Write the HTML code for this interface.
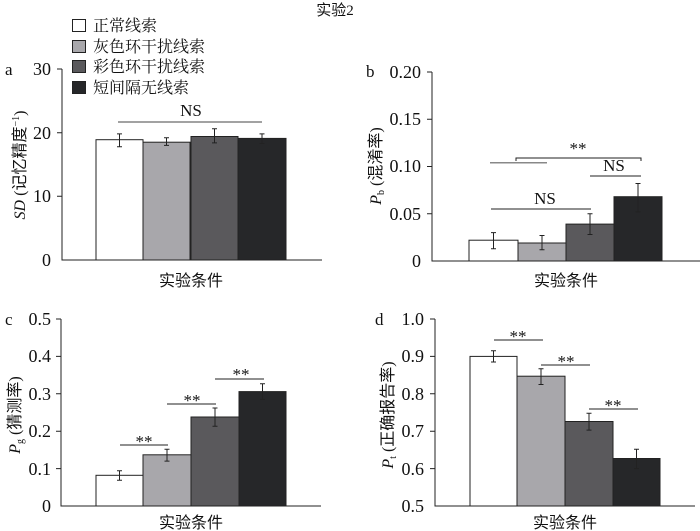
<!DOCTYPE html>
<html><head><meta charset="utf-8"><style>
html,body{margin:0;padding:0;background:#fff}
svg{display:block}
text{font-family:"Liberation Serif","Noto Serif CJK SC",serif;fill:#111}
.t{font-size:18px;text-anchor:end}
.c{font-family:"Liberation Serif","Noto Sans CJK SC",sans-serif}
</style></head><body>
<svg width="700" height="531" viewBox="0 0 700 531" xmlns="http://www.w3.org/2000/svg">
<text x="335" y="15" font-size="15" text-anchor="middle" class="c">实验2</text>
<!-- legend -->
<g stroke="#222" stroke-width="1">
<rect x="72.5" y="19.5" width="13" height="12" fill="#fff"/>
<rect x="72.5" y="40.5" width="13" height="12" fill="#a8a7ab"/>
<rect x="72.5" y="60.5" width="13" height="12" fill="#5a595c"/>
<rect x="72.5" y="81.5" width="13" height="12" fill="#262729"/>
</g>
<g font-size="16" class="c">
<text x="93" y="31">正常线索</text>
<text x="93" y="52">灰色环干扰线索</text>
<text x="93" y="72">彩色环干扰线索</text>
<text x="93" y="93">短间隔无线索</text>
</g>

<!-- Panel a -->
<text x="5" y="75" font-size="17">a</text>
<g stroke="#222" fill="none">
<path d="M62 69V260H322"/>
<path d="M57 69H62M57 132.7H62M57 196.3H62"/>
</g>
<text class="t" x="51" y="75">30</text>
<text class="t" x="51" y="139">20</text>
<text class="t" x="51" y="202">10</text>
<text class="t" x="51" y="266">0</text>
<g stroke="#222">
<rect x="96" y="139.7" width="47" height="120.3" fill="#fff"/>
<rect x="143" y="142.2" width="47" height="117.8" fill="#a8a7ab"/>
<rect x="191" y="136.5" width="47" height="123.5" fill="#5a595c"/>
<rect x="238" y="138.4" width="48" height="121.6" fill="#262729"/>
<path d="M119.5 133.9V146.7M117 133.9H122M117 146.7H122M166.5 137.8V145.4M164 137.8H169M164 145.4H169M214.5 128.8V142.9M212 128.8H217M212 142.9H217M262 133.9V143.5M259.5 133.9H264.5M259.5 143.5H264.5"/>
<path d="M118 122H262" stroke="#444"/>
</g>
<text x="191" y="116" font-size="17" text-anchor="middle">NS</text>
<text transform="translate(25,165) rotate(-90)" font-size="16" text-anchor="middle" class="c"><tspan font-style="italic">SD</tspan> (记忆精度<tspan font-size="10" dy="-6">−1</tspan><tspan dy="6">)</tspan></text>
<text x="191" y="286" font-size="16" text-anchor="middle" class="c">实验条件</text>

<!-- Panel b -->
<text x="366" y="77" font-size="17">b</text>
<g stroke="#222" fill="none">
<path d="M432 72V261H700"/>
<path d="M427 72H432M427 119.25H432M427 166.5H432M427 213.75H432"/>
</g>
<text class="t" x="421" y="78">0.20</text>
<text class="t" x="421" y="125">0.15</text>
<text class="t" x="421" y="172">0.10</text>
<text class="t" x="421" y="220">0.05</text>
<text class="t" x="421" y="267">0</text>
<g stroke="#222">
<rect x="469" y="240.2" width="49" height="20.8" fill="#fff"/>
<rect x="518" y="243" width="48" height="18" fill="#a8a7ab"/>
<rect x="566" y="224.1" width="48" height="36.9" fill="#5a595c"/>
<rect x="614" y="196.7" width="48" height="64.3" fill="#262729"/>
<path d="M493.5 232.6V248.7M491 232.6H496M491 248.7H496M542 235.5V249.7M539.5 235.5H544.5M539.5 249.7H544.5M590 213.8V234.5M587.5 213.8H592.5M587.5 234.5H592.5M638 183.5V211.9M635.5 183.5H640.5M635.5 211.9H640.5"/>
<path d="M490 162.7H547" stroke="#888" stroke-width="1.5"/>
<path d="M516 161V158H641V161" fill="none"/>
<path d="M590 176H641"/>
<path d="M491 209H591"/>
</g>
<text x="578" y="154" font-size="17" text-anchor="middle">**</text>
<text x="614" y="171" font-size="17" text-anchor="middle">NS</text>
<text x="545" y="204" font-size="17" text-anchor="middle">NS</text>
<text transform="translate(381,166) rotate(-90)" font-size="16" text-anchor="middle" class="c"><tspan font-style="italic">P</tspan><tspan font-size="10" dy="3">b</tspan><tspan dy="-3"> (混淆率)</tspan></text>
<text x="566" y="286" font-size="16" text-anchor="middle" class="c">实验条件</text>

<!-- Panel c -->
<text x="5" y="325" font-size="17">c</text>
<g stroke="#222" fill="none">
<path d="M61 319V506H321"/>
<path d="M56 319H61M56 356.4H61M56 393.8H61M56 431.2H61M56 468.6H61"/>
</g>
<text class="t" x="51" y="325">0.5</text>
<text class="t" x="51" y="362">0.4</text>
<text class="t" x="51" y="400">0.3</text>
<text class="t" x="51" y="437">0.2</text>
<text class="t" x="51" y="475">0.1</text>
<text class="t" x="51" y="512">0</text>
<g stroke="#222">
<rect x="96" y="475.3" width="47" height="30.7" fill="#fff"/>
<rect x="143" y="454.8" width="48" height="51.2" fill="#a8a7ab"/>
<rect x="191" y="417" width="48" height="89" fill="#5a595c"/>
<rect x="239" y="391.6" width="47" height="114.4" fill="#262729"/>
<path d="M119.5 470.8V480.2M117 470.8H122M117 480.2H122M167 449.2V461.1M164.5 449.2H169.5M164.5 461.1H169.5M215 408V426.3M212.5 408H217.5M212.5 426.3H217.5M262.5 383.7V399.4M260 383.7H265M260 399.4H265"/>
<path d="M120 445H168M167 404H216M215 379H264"/>
</g>
<g font-size="17" text-anchor="middle"><text x="144" y="447">**</text><text x="192" y="406">**</text><text x="241" y="380">**</text></g>
<text transform="translate(20,415) rotate(-90)" font-size="16" text-anchor="middle" class="c"><tspan font-style="italic">P</tspan><tspan font-size="10" dy="3">g</tspan><tspan dy="-3"> (猜测率)</tspan></text>
<text x="191" y="528" font-size="16" text-anchor="middle" class="c">实验条件</text>

<!-- Panel d -->
<text x="375" y="325" font-size="17">d</text>
<g stroke="#222" fill="none">
<path d="M435 319V506H695"/>
<path d="M430 319H435M430 356.4H435M430 393.8H435M430 431.2H435M430 468.6H435"/>
</g>
<text class="t" x="424" y="325">1.0</text>
<text class="t" x="424" y="362">0.9</text>
<text class="t" x="424" y="400">0.8</text>
<text class="t" x="424" y="437">0.7</text>
<text class="t" x="424" y="475">0.6</text>
<text class="t" x="424" y="512">0.5</text>
<g stroke="#222">
<rect x="470" y="356.4" width="47" height="149.6" fill="#fff"/>
<rect x="517" y="376.2" width="48" height="129.8" fill="#a8a7ab"/>
<rect x="565" y="421.5" width="48" height="84.5" fill="#5a595c"/>
<rect x="613" y="458.5" width="47" height="47.5" fill="#262729"/>
<path d="M493.5 350.8V362M491 350.8H496M491 362H496M541 368.7V384.5M538.5 368.7H543.5M538.5 384.5H543.5M589 413.3V430.1M586.5 413.3H591.5M586.5 430.1H591.5M636.5 449.2V468.6M634 449.2H639M634 468.6H639"/>
<path d="M494 340H543M541 365H590M589 409H638"/>
</g>
<g font-size="17" text-anchor="middle"><text x="518" y="342">**</text><text x="566" y="367">**</text><text x="613" y="411">**</text></g>
<text transform="translate(393,415) rotate(-90)" font-size="16" text-anchor="middle" class="c"><tspan font-style="italic">P</tspan><tspan font-size="10" dy="3">t</tspan><tspan dy="-3"> (正确报告率)</tspan></text>
<text x="565" y="528" font-size="16" text-anchor="middle" class="c">实验条件</text>
</svg>
</body></html>
